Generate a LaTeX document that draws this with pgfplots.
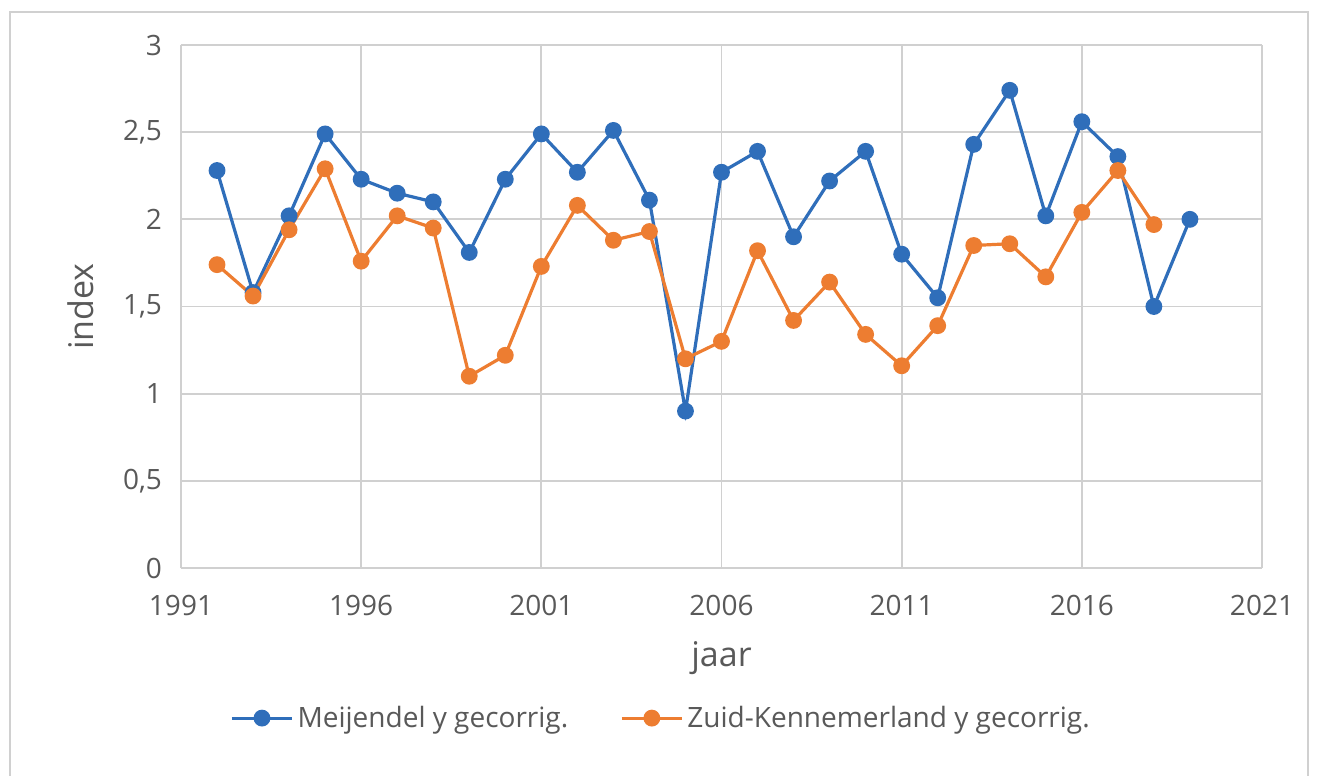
\documentclass[border=0pt]{standalone}
\usepackage{pgfplots}
\pgfplotsset{compat=1.18}
\usepackage{fontspec}
\setmainfont{Open Sans}
\definecolor{mblue}{HTML}{2F6EBA}
\definecolor{morange}{HTML}{ED7D31}
\definecolor{gridc}{HTML}{D0D0D0}
\definecolor{txt}{HTML}{595959}
\begin{document}
\begin{tikzpicture}
\useasboundingbox (0pt,0pt) rectangle (659.5pt,-388pt);
\draw[gridc, line width=1pt] (5pt,-395pt) -- (5pt,-6pt) -- (654pt,-6pt) -- (654pt,-395pt);
\begin{axis}[
  at={(90.5pt,-22.5pt)}, anchor=north west,
  scale only axis, width=540.5pt, height=261.5pt,
  xmin=1991, xmax=2021, ymin=0, ymax=3,
  xtick={1991,1996,...,2021}, ytick={0,0.5,...,3},
  /pgf/number format/use comma,
  /pgf/number format/1000 sep={},
  /pgf/number format/assume math mode=true,
  grid=major, major grid style={gridc, line width=0.9pt},
  axis line style={draw=none},
  axis x line*=bottom, axis y line*=left,
  tick style={draw=none},
  ticklabel style={font=\fontsize{14}{16}\selectfont, text=txt},
  xticklabel style={yshift=-10pt},
  yticklabel style={xshift=-6pt},
  xlabel={jaar}, ylabel={index},
  every axis x label/.style={at={(axis description cs:0.5,-0.172)}, anchor=center,
    font=\fontsize{17}{19}\selectfont, text=txt},
  every axis y label/.style={at={(axis description cs:-0.093,0.5)}, anchor=center, rotate=90,
    font=\fontsize{17}{19}\selectfont, text=txt},
  legend style={draw=none, at={(0.445,-0.287)}, anchor=center,
    font=\fontsize{14}{16}\selectfont, text=txt, legend columns=2,
    /tikz/every even column/.append style={column sep=24pt}},
  legend image code/.code={\draw[#1] (0pt,0pt) -- (30pt,0pt); \draw[#1,mark repeat=1] plot coordinates {(15pt,0pt)};},
]
\draw[gridc, line width=1.2pt] (axis cs:1991,0) -- (axis cs:2021,0);
\addplot[mblue, line width=1.6pt, mark=*, mark size=3.4pt] coordinates {
(1992,2.28) (1993,1.58) (1994,2.02) (1995,2.49) (1996,2.23) (1997,2.15) (1998,2.10)
(1999,1.81) (2000,2.23) (2001,2.49) (2002,2.27) (2003,2.51) (2004,2.11) (2005,0.90)
(2006,2.27) (2007,2.39) (2008,1.90) (2009,2.22) (2010,2.39) (2011,1.80) (2012,1.55)
(2013,2.43) (2014,2.74) (2015,2.02) (2016,2.56) (2017,2.36) (2018,1.50) (2019,2.00)};
\addlegendentry{Meijendel y gecorrig.}
\addplot[morange, line width=1.6pt, mark=*, mark size=3.4pt] coordinates {
(1992,1.74) (1993,1.56) (1994,1.94) (1995,2.29) (1996,1.76) (1997,2.02) (1998,1.95)
(1999,1.10) (2000,1.22) (2001,1.73) (2002,2.08) (2003,1.88) (2004,1.93) (2005,1.20)
(2006,1.30) (2007,1.82) (2008,1.42) (2009,1.64) (2010,1.34) (2011,1.16) (2012,1.39)
(2013,1.85) (2014,1.86) (2015,1.67) (2016,2.04) (2017,2.28) (2018,1.97)};
\addlegendentry{Zuid-Kennemerland y gecorrig.}
\end{axis}
\end{tikzpicture}
\end{document}
